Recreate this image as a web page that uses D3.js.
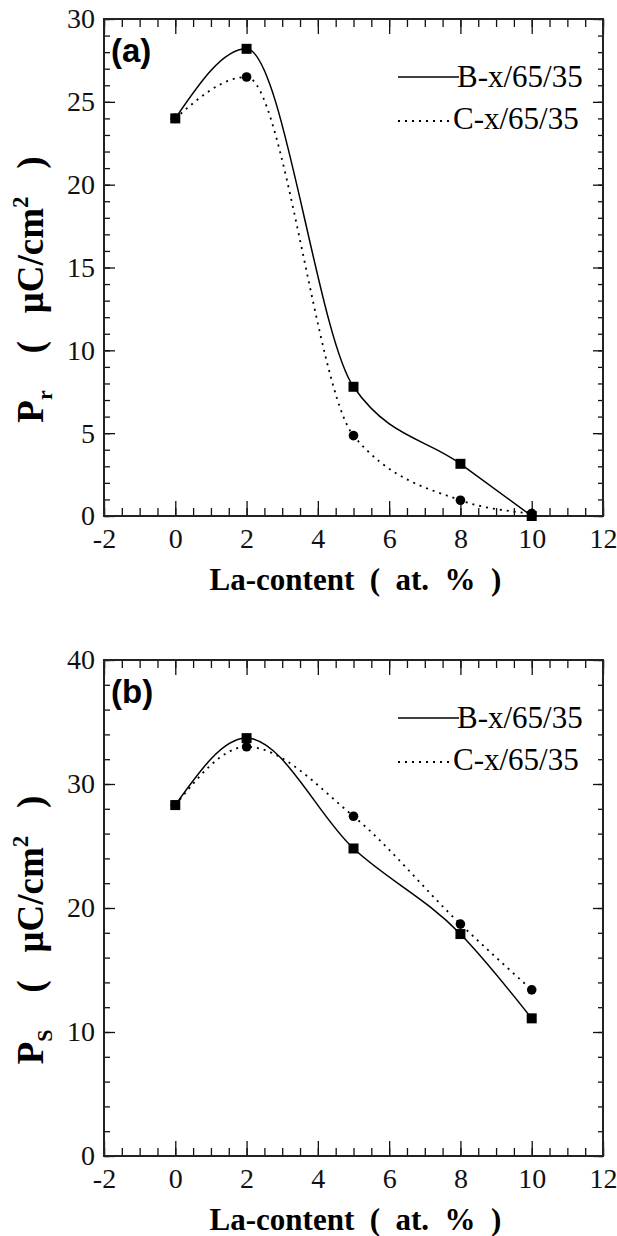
<!DOCTYPE html>
<html>
<head>
<meta charset="utf-8">
<script src="https://cdn.jsdelivr.net/npm/d3@7"></script>
<style>
  body { margin: 0; background: white; }
  svg { display: block; }
</style>
</head>
<body>
<script>
// data
const laContent = [0, 2, 5, 8, 10]
const prB = [24.0, 28.2, 7.8, 3.15, 0.0]
const prC = [24.0, 26.5, 4.85, 0.95, 0.15]
const psB = [28.3, 33.7, 24.8, 17.9, 11.1]
const psC = [28.3, 33.0, 27.4, 18.7, 13.4]
const seriesNames = ["B-x/65/35", "C-x/65/35"]
const xTicks = [-2, 0, 2, 4, 6, 8, 10, 12]
const prTicks = [0, 5, 10, 15, 20, 25, 30]
const psTicks = [0, 10, 20, 30, 40]

const W = 617, H = 1236
const SERIF = "Liberation Serif"
const svg = d3.select("body").append("svg")
    .attr("width", W)
    .attr("height", H)

const nb = "\u00a0"

function drawPanel(opt){
    let left = 104, right = 603
    let x = d3.scaleLinear().domain([-2, 12]).range([left, right])
    let y = d3.scaleLinear().domain(opt.yDomain).range([opt.bottom, opt.top])
    let g = svg.append("g")

    // minor + major ticks on all four sides (pointing inward)
    let xMinor = d3.range(-2, 12.01, 0.5)
    let yMinor = d3.range(opt.yDomain[0], opt.yDomain[1] + 0.01, opt.yMinorStep)

    g.append("g").attr("transform", "translate(0," + opt.bottom + ")")
        .call(d3.axisBottom(x).tickValues(xMinor).tickSize(-8).tickFormat(""))
    g.append("g").attr("transform", "translate(0," + opt.top + ")")
        .call(d3.axisTop(x).tickValues(xMinor).tickSize(-8).tickFormat(""))
    g.append("g").attr("transform", "translate(0," + opt.bottom + ")")
        .call(d3.axisBottom(x).tickValues(xTicks).tickSize(-15).tickPadding(12).tickFormat(d => String(d)))
    g.append("g").attr("transform", "translate(0," + opt.top + ")")
        .call(d3.axisTop(x).tickValues(xTicks).tickSize(-15).tickFormat(""))

    g.append("g").attr("transform", "translate(" + left + ",0)")
        .call(d3.axisLeft(y).tickValues(yMinor).tickSize(-6).tickFormat(""))
    g.append("g").attr("transform", "translate(" + right + ",0)")
        .call(d3.axisRight(y).tickValues(yMinor).tickSize(-5).tickFormat(""))
    g.append("g").attr("transform", "translate(" + left + ",0)")
        .call(d3.axisLeft(y).tickValues(opt.yTicks).tickSize(-11).tickPadding(9).tickFormat(d => String(d)))
    g.append("g").attr("transform", "translate(" + right + ",0)")
        .call(d3.axisRight(y).tickValues(opt.yTicks).tickSize(-10).tickFormat(""))

    g.selectAll(".domain").remove()
    g.selectAll(".tick line").attr("stroke", "#111").attr("stroke-width", 1.3)
    g.selectAll(".tick text")
        .style("font-family", SERIF)
        .style("font-size", "28px")
        .attr("fill", "#111")

    // frame
    g.append("rect")
        .attr("x", left).attr("y", opt.top)
        .attr("width", right - left).attr("height", opt.bottom - opt.top)
        .attr("fill", "none").attr("stroke", "#222").attr("stroke-width", 2)

    // curves
    let line = d3.line()
        .x(d => x(d[0]))
        .y(d => y(d[1]))
        .curve(d3.curveMonotoneX)
    let bData = d3.zip(laContent, opt.b)
    let cData = d3.zip(laContent, opt.c)

    g.append("path").datum(cData)
        .attr("d", line)
        .attr("fill", "none").attr("stroke", "#000")
        .attr("stroke-width", 1.8).attr("stroke-dasharray", "2,5")
    g.append("path").datum(bData)
        .attr("d", line)
        .attr("fill", "none").attr("stroke", "#000").attr("stroke-width", 1.5)

    g.selectAll("circle.c").data(cData).enter()
        .append("circle").attr("class", "c")
        .attr("cx", d => x(d[0])).attr("cy", d => y(d[1]))
        .attr("r", 4.8).attr("fill", "#000")
    g.selectAll("rect.b").data(bData).enter()
        .append("rect").attr("class", "b")
        .attr("x", d => x(d[0]) - 5).attr("y", d => y(d[1]) - 5)
        .attr("width", 10).attr("height", 10).attr("fill", "#000")

    // legend
    let lg = g.append("g")
    lg.append("line").attr("x1", 398).attr("x2", 459)
        .attr("y1", opt.top + 58).attr("y2", opt.top + 58)
        .attr("stroke", "#000").attr("stroke-width", 1.5)
    lg.append("text").attr("x", 457).attr("y", opt.top + 68)
        .style("font-family", SERIF).style("font-size", "31px")
        .text(seriesNames[0])
    lg.append("line").attr("x1", 398).attr("x2", 453)
        .attr("y1", opt.top + 102).attr("y2", opt.top + 102)
        .attr("stroke", "#000").attr("stroke-width", 1.8).attr("stroke-dasharray", "2,5")
    lg.append("text").attr("x", 453).attr("y", opt.top + 110)
        .style("font-family", SERIF).style("font-size", "31px")
        .text(seriesNames[1])

    // panel label
    g.append("text")
        .attr("x", 111).attr("y", opt.top + 43)
        .style("font-family", "Liberation Sans")
        .attr("font-weight", "bold").style("font-size", "33px")
        .text(opt.label)

    // x title
    g.append("text")
        .attr("x", (left + right) / 2 + 2).attr("y", opt.bottom + 74)
        .attr("text-anchor", "middle")
        .style("font-family", SERIF)
        .attr("font-weight", "bold").style("font-size", "31px")
        .text("La-content" + nb + nb + "(" + nb + nb + "at." + nb + nb + "%" + nb + nb + ")")

    // y title
    let cy = (opt.top + opt.bottom) / 2 + 22
    let yt = g.append("text")
        .attr("transform", "translate(43," + cy + ") rotate(-90)")
        .attr("text-anchor", "middle")
        .style("font-family", SERIF)
        .attr("font-weight", "bold").style("font-size", "37px")
    yt.append("tspan").text("P")
    yt.append("tspan").style("font-size", "22px").attr("dy", 9).text(opt.sub)
    yt.append("tspan").attr("dy", -9).text(nb + nb + nb + nb + "(" + nb + nb + nb + "\u03bcC/cm")
    yt.append("tspan").style("font-size", "23px").attr("dy", -15).text("2")
    yt.append("tspan").attr("dy", 15).text(nb + nb + nb + ")")
}

drawPanel({top: 19, bottom: 516, yDomain: [0, 30], yTicks: prTicks, yMinorStep: 1,
    b: prB, c: prC, label: "(a)", sub: "r"})
drawPanel({top: 660, bottom: 1156, yDomain: [0, 40], yTicks: psTicks, yMinorStep: 2,
    b: psB, c: psC, label: "(b)", sub: "S"})
</script>
</body>
</html>
